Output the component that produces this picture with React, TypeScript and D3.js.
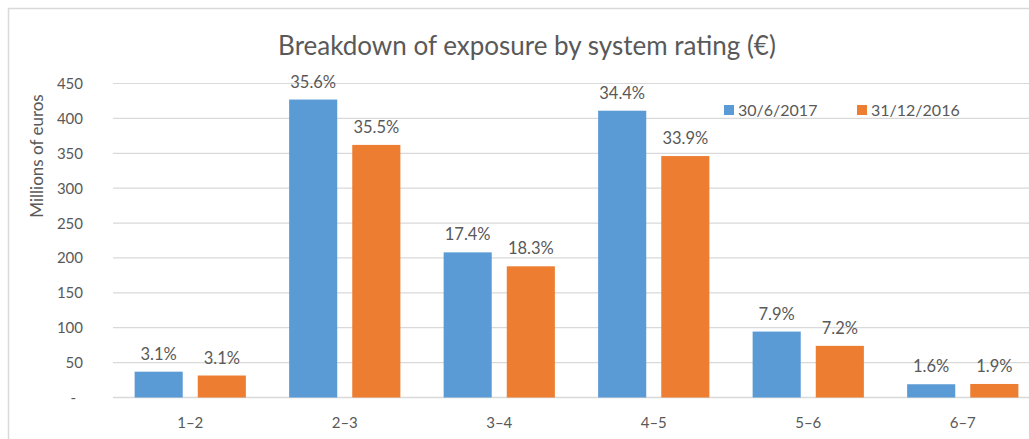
import React from "react";
import * as d3 from "d3";

const categories = ["1–2", "2–3", "3–4", "4–5", "5–6", "6–7"];
const seriesNames = ["30/6/2017", "31/12/2016"];
const valuesJun2017 = [37, 427, 208, 411, 94.5, 19];
const valuesDec2016 = [31.5, 362, 188, 346, 74, 19.4];
const labelsJun2017 = ["3.1%", "35.6%", "17.4%", "34.4%", "7.9%", "1.6%"];
const labelsDec2016 = ["3.1%", "35.5%", "18.3%", "33.9%", "7.2%", "1.9%"];
const yTicks = [0, 50, 100, 150, 200, 250, 300, 350, 400, 450];
const colors = ["#5B9BD5", "#ED7D31"];

const W = 1029;
const H = 439;
const FONT = "Lato, 'Open Sans', sans-serif";
const TEXT = "#595959";

export default function App() {
  const x0 = d3.scaleBand<string>().domain(categories).range([113, 1040]).paddingInner(0.28).paddingOuter(0.14);
  const x1 = d3.scaleBand<string>().domain(seriesNames).range([0, x0.bandwidth()]).paddingInner(0.238).paddingOuter(0);
  const y = d3.scaleLinear().domain([0, 450]).range([397.5, 83.5]);

  const series = [
    { name: seriesNames[0], values: valuesJun2017, labels: labelsJun2017, color: colors[0] },
    { name: seriesNames[1], values: valuesDec2016, labels: labelsDec2016, color: colors[1] },
  ];

  const legendX = [724, 857];

  return (
    <svg width={W} height={H} style={{ position: "fixed", left: 0, top: 0, background: "#fff" }} fontFamily={FONT}>
      <rect x={0} y={0} width={W} height={H} fill="#fff" />
      <rect x={8.5} y={8.5} width={1100} height={600} fill="#fff" stroke="#D9D9D9" strokeWidth={1.5} />
      <text x={527} y={55} textAnchor="middle" fontSize={26} fill={TEXT}>
        Breakdown of exposure by system rating (€)
      </text>
      <text transform={`translate(43,156) rotate(-90)`} textAnchor="middle" fontSize={17} fill={TEXT}>
        Millions of euros
      </text>
      {yTicks.map((t) => (
        <g key={t}>
          <line x1={113} x2={1040} y1={y(t)} y2={y(t)} stroke="#D9D9D9" strokeWidth={t === 0 ? 1.5 : 1.2} />
          <text x={t === 0 ? 76 : 83} y={y(t) + 5.5} textAnchor="end" fontSize={15} fill={TEXT}>
            {t === 0 ? "-" : t}
          </text>
        </g>
      ))}
      {categories.map((c, i) => (
        <g key={c} transform={`translate(${x0(c)},0)`}>
          {series.map((s) => {
            const bx = x1(s.name)!;
            const v = s.values[i];
            return (
              <g key={s.name}>
                <rect x={bx} y={y(v)} width={x1.bandwidth()} height={y(0) - y(v)} fill={s.color} />
                <text x={bx + x1.bandwidth() / 2} y={y(v) - 12} textAnchor="middle" fontSize={16.5} fill={TEXT}>
                  {s.labels[i]}
                </text>
              </g>
            );
          })}
          <text x={x0.bandwidth() / 2} y={428} textAnchor="middle" fontSize={15} fill={TEXT}>
            {c}
          </text>
        </g>
      ))}
      {series.map((s, i) => (
        <g key={s.name}>
          <rect x={legendX[i]} y={105} width={10} height={10} fill={s.color} />
          <text x={legendX[i] + 14} y={115.5} fontSize={16} fill={TEXT}>
            {s.name}
          </text>
        </g>
      ))}
    </svg>
  );
}
